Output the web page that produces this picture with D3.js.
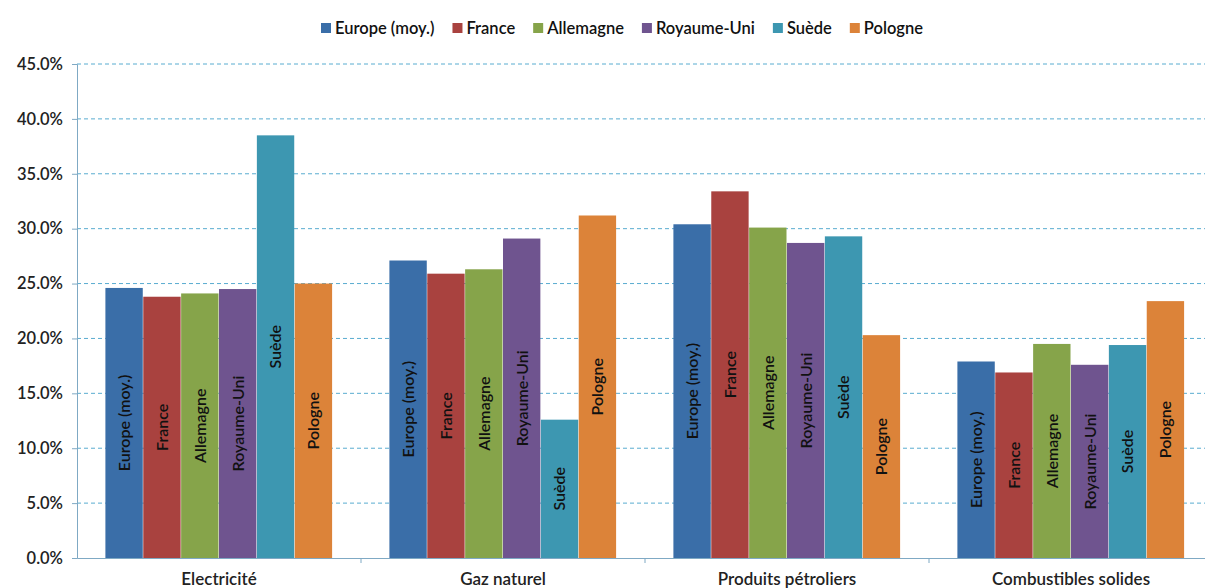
<!DOCTYPE html>
<html>
<head>
<meta charset="utf-8">
<script src="https://cdn.jsdelivr.net/npm/d3@7"></script>
<style>
body { margin: 0; background: #fff; }
svg { font-family: Lato, "Open Sans", sans-serif; }
</style>
</head>
<body>
<svg width="1205" height="588"></svg>
<script>
// categories and series
var categories = ["Electricité", "Gaz naturel", "Produits pétroliers", "Combustibles solides"];
var countries = ["Europe (moy.)", "France", "Allemagne", "Royaume-Uni", "Suède", "Pologne"];
var colors = ["#3a6ea8", "#a9423f", "#86a44a", "#6f548f", "#3d97b1", "#dc8339"];

var europe = [24.6, 27.1, 30.4, 17.9];
var france = [23.8, 25.9, 33.4, 16.9];
var allemagne = [24.1, 26.3, 30.1, 19.5];
var royaumeUni = [24.5, 29.1, 28.7, 17.6];
var suede = [38.5, 12.6, 29.3, 19.4];
var pologne = [25.0, 31.2, 20.3, 23.4];

var yTicks = [0, 5, 10, 15, 20, 25, 30, 35, 40, 45];

var seriesValues = [europe, france, allemagne, royaumeUni, suede, pologne];

var svg = d3.select("svg");
var plotLeft = 77, plotRight = 1213, plotTop = 64, plotBottom = 558;

var x0 = d3.scaleBand().domain(categories).range([plotLeft, plotRight]);
var x1 = d3.scaleBand().domain(countries).range([0, x0.bandwidth()]).paddingOuter(0.75);
var y = d3.scaleLinear().domain([0, 45]).range([plotBottom, plotTop]);

// gridlines
svg.append("g").selectAll("line")
  .data(yTicks.slice(1))
  .enter().append("line")
  .attr("x1", plotLeft).attr("x2", plotRight)
  .attr("y1", function(d) { return y(d); })
  .attr("y2", function(d) { return y(d); })
  .attr("stroke", "#59acd0")
  .attr("stroke-width", 1)
  .attr("stroke-dasharray", "4,3");

// bars
var groups = svg.append("g").selectAll("g")
  .data(categories)
  .enter().append("g")
  .attr("transform", function(d) { return "translate(" + x0(d) + ",0)"; });

groups.selectAll("rect")
  .data(function(d, i) {
    return countries.map(function(c, j) { return {country: c, value: seriesValues[j][i], idx: j}; });
  })
  .enter().append("rect")
  .attr("x", function(d) { return x1(d.country); })
  .attr("width", x1.bandwidth() - 0.5)
  .attr("y", function(d) { return y(d.value); })
  .attr("height", function(d) { return plotBottom - y(d.value); })
  .attr("fill", function(d) { return colors[d.idx]; });

groups.selectAll("text")
  .data(function(d, i) {
    return countries.map(function(c, j) { return {country: c, value: seriesValues[j][i]}; });
  })
  .enter().append("text")
  .attr("transform", function(d) {
    var cx = x1(d.country) + x1.bandwidth() / 2;
    var cy = (y(d.value) + plotBottom) / 2;
    return "translate(" + cx + "," + cy + ") rotate(-90)";
  })
  .attr("text-anchor", "middle")
  .attr("dy", "0.35em")
  .attr("font-size", 16)
  .attr("font-weight", 600)
  .attr("fill", "#111")
  .text(function(d) { return d.country; });

// y axis
var yAxis = svg.append("g")
  .attr("transform", "translate(" + plotLeft + ",0)")
  .call(d3.axisLeft(y).tickValues(yTicks).tickSize(5).tickFormat(function(d) { return d.toFixed(1) + "%"; }));
yAxis.select(".domain").attr("stroke", "#7fa9c4");
yAxis.selectAll(".tick line").attr("stroke", "#7fa9c4");
yAxis.selectAll(".tick text")
  .attr("font-size", 16.5).attr("font-weight", 600).attr("fill", "#222")
  .attr("font-family", "Lato, sans-serif").attr("x", -14);

// x axis
var xAxis = svg.append("g")
  .attr("transform", "translate(0," + plotBottom + ")")
  .call(d3.axisBottom(x0).tickSize(0).tickPadding(15));
xAxis.select(".domain").attr("stroke", "#7fa9c4");
xAxis.selectAll(".tick text")
  .attr("font-size", 17).attr("font-weight", 600).attr("fill", "#222")
  .attr("font-family", "Lato, sans-serif");
xAxis.selectAll(".sep")
  .data(categories.slice(1))
  .enter().append("line")
  .attr("x1", function(d) { return x0(d); })
  .attr("x2", function(d) { return x0(d); })
  .attr("y1", 0).attr("y2", 5)
  .attr("stroke", "#7fa9c4");

// legend, laid out by measured text widths
var legend = svg.append("g").attr("transform", "translate(321,28)");
var lx = 0;
countries.forEach(function(c, i) {
  var g = legend.append("g").attr("transform", "translate(" + lx + ",0)");
  g.append("rect").attr("x", 0).attr("y", -5).attr("width", 10).attr("height", 10).attr("fill", colors[i]);
  var t = g.append("text").attr("x", 14).attr("dy", "0.35em")
    .attr("font-size", 16.5).attr("font-weight", 600).attr("fill", "#111")
    .text(c);
  lx += 14 + t.node().getComputedTextLength() + 18;
});
</script>
</body>
</html>
